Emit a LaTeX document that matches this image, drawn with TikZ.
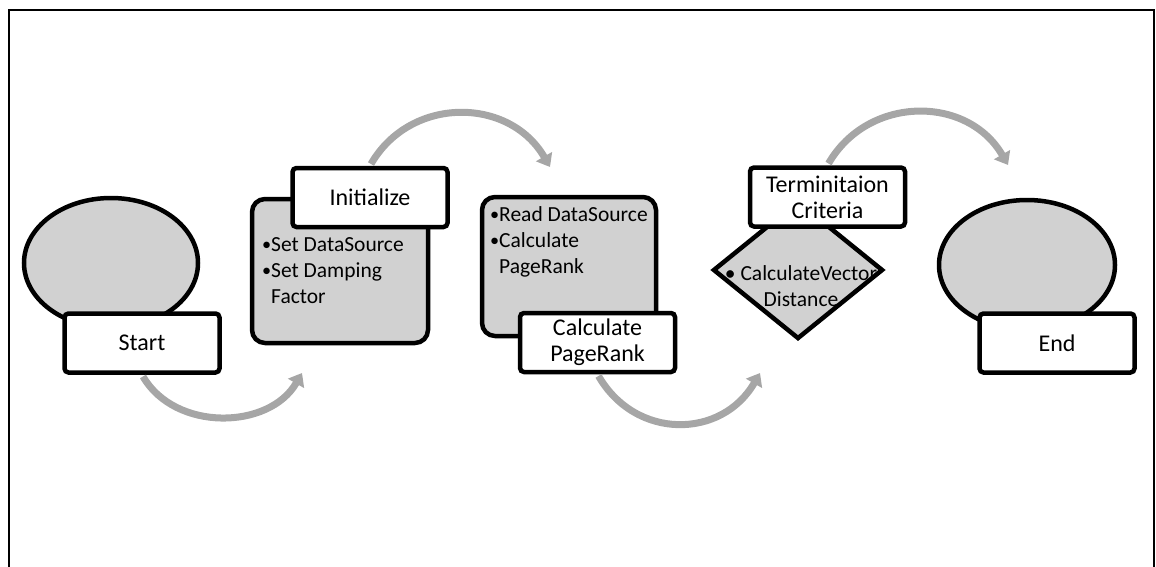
\documentclass[tikz,border=0pt]{standalone}
\usepackage{fontspec}
\setmainfont{Carlito}
\usetikzlibrary{shapes.geometric,arrows.meta}
\definecolor{shapegray}{RGB}{209,209,209}
\definecolor{flowgray}{RGB}{166,166,166}
\newcommand{\bul}{\makebox[9pt][l]{\raisebox{0.5pt}{\scalebox{0.85}{•}}}}
\tikzset{
  stage/.style={draw, line width=4.5pt, fill=shapegray, inner sep=0pt},
  tag/.style={draw, line width=4.5pt, fill=white, rounded corners=4pt,
    minimum width=155pt, minimum height=59pt, align=center, inner sep=0pt,
    font=\fontsize{24}{26}\selectfont},
  notes/.style={anchor=north west, align=left, inner sep=0pt},
  flow/.style={draw=flowgray, line width=7pt, shorten <=2pt,
    -{Triangle[length=12pt,width=18pt]}}
}
\begin{document}
\begin{tikzpicture}[x=1pt, y=-1pt,
font=\fontsize{21.5}{26}\selectfont]
\useasboundingbox (0,0) rectangle (1156,567);
\draw[line width=2pt] (9,567) -- (9,10) -- (1154,10) -- (1154,567);

\node[stage, ellipse, minimum width=174pt, minimum height=130pt] (startoval) at (111,263) {};
\node[tag] (startlbl) at (142,343) {Start};

\node[stage, rounded corners=13pt, minimum width=176pt, minimum height=144pt] (initbox) at (340,271) {};
\node[notes] (inittext) at (262,237) {\bul Set DataSource\\\bul Set Damping\\\hspace*{9pt}Factor};
\node[tag] (initlbl) at (370,197.5) {Initialize};

\node[stage, rounded corners=13pt, minimum width=174pt, minimum height=139pt] (calcbox) at (569,266.5) {};
\node[notes] (calctext) at (490,206) {\bul Read DataSource\\\bul Calculate\\\hspace*{9pt}PageRank};
\node[tag] (calclbl) at (597.5,342.5) {Calculate\\PageRank};

\node[stage, diamond, minimum width=170pt, minimum height=138pt] (termdiamond) at (798,270) {};
\node[align=center, inner sep=0pt] (termtext) at (801,286) {• CalculateVector\\Distance};
\node[tag] (termlbl) at (827.5,197) {Terminitaion\\Criteria};

\node[stage, ellipse, minimum width=176pt, minimum height=130pt] (endoval) at (1027,265) {};
\node[tag] (endlbl) at (1057,343) {End};

\coordinate (initin) at (302,373);
\coordinate (calcin) at (550,167);
\coordinate (termin) at (760,373);
\coordinate (endin) at (1008,165);

\draw[flow] (startlbl.south) to[out=-60, in=-120, looseness=1.05] (initin);
\draw[flow] (initlbl.north) to[out=60, in=120, looseness=1.15] (calcin);
\draw[flow] (calclbl.south) to[out=-60, in=-120, looseness=1.2] (termin);
\draw[flow] (termlbl.north) to[out=60, in=120, looseness=1.15] (endin);
\end{tikzpicture}
\end{document}
